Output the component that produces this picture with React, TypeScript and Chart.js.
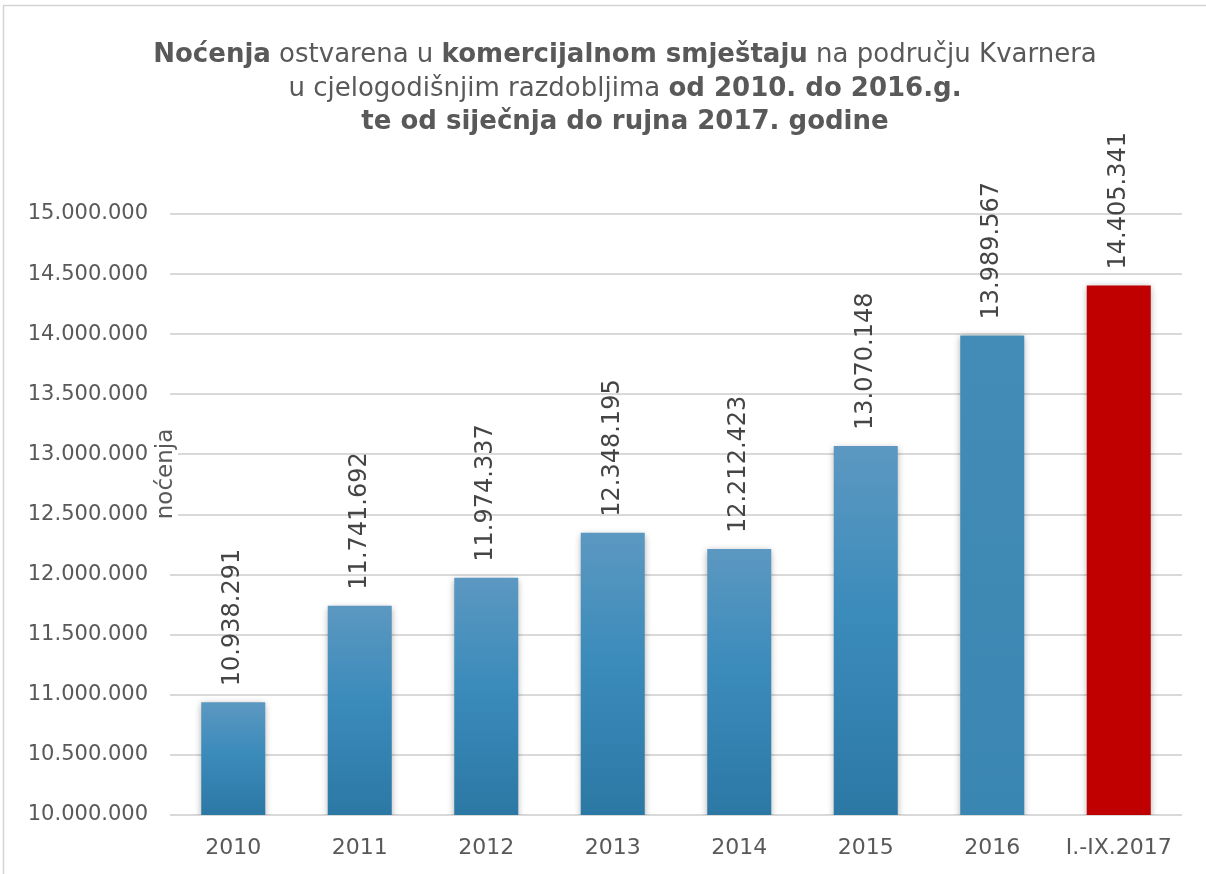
import React, { useEffect, useRef } from 'react';
import { Chart, registerables } from 'chart.js';

Chart.register(...registerables);

const categories = ['2010', '2011', '2012', '2013', '2014', '2015', '2016', 'I.-IX.2017'];
const values = [10938291, 11741692, 11974337, 12348195, 12212423, 13070148, 13989567, 14405341];
const yMin = 10000000;
const yMax = 15000000;
const yStep = 500000;
const axisTitle = 'noćenja';
const titleLines = [
  [
    { t: 'Noćenja', b: true },
    { t: ' ostvarena u ', b: false },
    { t: 'komercijalnom smještaju', b: true },
    { t: ' na području Kvarnera', b: false },
  ],
  [
    { t: 'u cjelogodišnjim razdobljima ', b: false },
    { t: 'od 2010. do 2016.g.', b: true },
  ],
  [{ t: 'te od siječnja do rujna 2017. godine', b: true }],
];

const FONT = '"DejaVu Sans", Verdana, sans-serif';

function fmt(v: number): string {
  return Math.round(v).toString().replace(/\B(?=(\d{3})+(?!\d))/g, '.');
}

const decorPlugin = {
  id: 'decor',
  beforeDraw(chart: any) {
    const ctx = chart.ctx;
    ctx.save();
    ctx.fillStyle = '#ffffff';
    ctx.fillRect(0, 0, chart.width, chart.height);
    ctx.strokeStyle = '#d4d4d4';
    ctx.lineWidth = 1.5;
    ctx.strokeRect(3.5, 5.5, chart.width + 20, chart.height + 20);
    ctx.restore();
  },
  beforeDatasetsDraw(chart: any) {
    const ctx = chart.ctx;
    ctx.save();
    ctx.shadowColor = 'rgba(0,0,0,0.35)';
    ctx.shadowBlur = 7;
    ctx.shadowOffsetX = 0;
    ctx.shadowOffsetY = 2;
  },
  afterDatasetsDraw(chart: any) {
    const ctx = chart.ctx;
    ctx.restore();
    const meta = chart.getDatasetMeta(0);
    ctx.save();
    ctx.fillStyle = '#454545';
    ctx.font = `24px ${FONT}`;
    ctx.textAlign = 'left';
    ctx.textBaseline = 'middle';
    meta.data.forEach((bar: any, i: number) => {
      ctx.save();
      ctx.translate(bar.x, bar.y - 16);
      ctx.rotate(-Math.PI / 2);
      ctx.fillText(fmt(values[i]), 0, 0);
      ctx.restore();
    });
    ctx.restore();
  },
  afterDraw(chart: any) {
    const ctx = chart.ctx;
    ctx.save();
    // axis title
    ctx.font = `23px ${FONT}`;
    const tw = ctx.measureText(axisTitle).width;
    const cx = 166;
    const cy = 474;
    ctx.fillStyle = '#ffffff';
    ctx.fillRect(cx - 12, cy - tw / 2 - 2, 24, tw + 4);
    ctx.translate(cx, cy);
    ctx.rotate(-Math.PI / 2);
    ctx.fillStyle = '#595959';
    ctx.textAlign = 'center';
    ctx.textBaseline = 'middle';
    ctx.fillText(axisTitle, 0, 0);
    ctx.restore();

    // rich title
    ctx.save();
    ctx.fillStyle = '#595959';
    ctx.textBaseline = 'middle';
    ctx.textAlign = 'left';
    const centerX = 625;
    const lineYs = [55, 89, 122];
    const size = 26;
    titleLines.forEach((segs, li) => {
      let total = 0;
      segs.forEach((s) => {
        ctx.font = `${s.b ? 'bold ' : ''}${size}px ${FONT}`;
        total += ctx.measureText(s.t).width;
      });
      let x = centerX - total / 2;
      segs.forEach((s) => {
        ctx.font = `${s.b ? 'bold ' : ''}${size}px ${FONT}`;
        ctx.fillText(s.t, x, lineYs[li]);
        x += ctx.measureText(s.t).width;
      });
    });
    ctx.restore();
  },
};

function barColor(c: any) {
  const chart = c.chart;
  const i = c.dataIndex;
  if (i === values.length - 1) return '#c00000';
  const area = chart.chartArea;
  const ys = chart.scales && chart.scales.y;
  if (!area || !ys) return '#3b8bbb';
  const top = ys.getPixelForValue(values[i]);
  const bottom = area.bottom;
  const g = chart.ctx.createLinearGradient(0, top, 0, bottom);
  if (i === 6) {
    g.addColorStop(0, '#438cb7');
    g.addColorStop(1, '#3a86b2');
  } else {
    g.addColorStop(0, '#5c98c1');
    g.addColorStop(0.45, '#3b8bbb');
    g.addColorStop(1, '#2c78a5');
  }
  return g;
}

export default function App() {
  const ref = useRef<HTMLCanvasElement>(null);
  useEffect(() => {
    if (!ref.current) return;
    const chart = new Chart(ref.current, {
      type: 'bar',
      data: {
        labels: categories,
        datasets: [
          {
            data: values,
            backgroundColor: barColor as any,
            borderWidth: 0,
            categoryPercentage: 1,
            barPercentage: 0.506,
          },
        ],
      },
      options: {
        responsive: false,
        animation: false,
        layout: { padding: { left: 0, top: 214, right: 24, bottom: 0 } },
        plugins: {
          legend: { display: false },
          title: { display: false },
          tooltip: { enabled: false },
        },
        scales: {
          x: {
            grid: { display: false, drawTicks: false },
            border: { display: false },
            ticks: {
              color: '#595959',
              font: { family: FONT, size: 22 },
              padding: 20,
              maxRotation: 0,
              autoSkip: false,
            },
            afterFit(scale: any) {
              scale.height = 59;
            },
          },
          y: {
            min: yMin,
            max: yMax,
            grid: { color: '#d9d9d9', lineWidth: 2, drawTicks: false },
            border: { display: false },
            ticks: {
              stepSize: yStep,
              color: '#595959',
              font: { family: FONT, size: 21 },
              padding: 22,
              callback: (v: any) => fmt(Number(v)),
            },
            afterFit(scale: any) {
              scale.width = 170;
            },
          },
        },
      },
      plugins: [decorPlugin],
    });
    return () => chart.destroy();
  }, []);
  return (
    <div style={{ position: 'fixed', left: 0, top: 0, width: 1206, height: 874, background: '#fff' }}>
      <canvas ref={ref} width={1206} height={874} style={{ display: 'block' }} />
    </div>
  );
}
